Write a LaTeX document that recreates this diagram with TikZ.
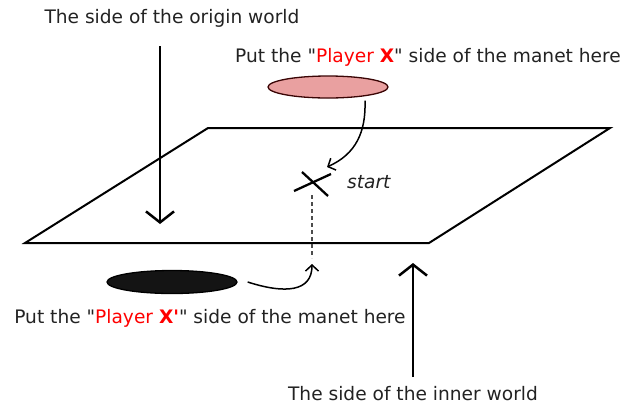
\documentclass[tikz,border=0pt]{standalone}
\usepackage{fontspec}
\setmainfont{DejaVu Sans}
\usetikzlibrary{arrows.meta,positioning,shapes.geometric}
\definecolor{playerred}{HTML}{FF0000}
\definecolor{magnetpink}{HTML}{E9A0A0}
\definecolor{magnetedge}{HTML}{3A0505}
\definecolor{textgray}{HTML}{222222}
\newcommand{\plx}{\textcolor{playerred}{Player \textbf{X}}}

\begin{document}
\begin{tikzpicture}[x=1pt,y=-1pt,
    caption/.style={font=\fontsize{18.6}{21}\selectfont,text=textgray,inner sep=0pt},
    world arrow/.style={line width=2.5pt,-{Straight Barb[length=11pt,width=28pt,line width=2.5pt]}},
    flip arrow/.style={line width=1.5pt,-{Straight Barb[length=6pt,width=13pt,line width=1.5pt]}},
    magnet/.style={ellipse,draw,line width=1.3pt,inner sep=0pt}]
  \useasboundingbox (0,0) rectangle (636,408);
  % the board
  \draw[line width=2pt] (208,128) -- (610,128) -- (429,243) -- (25,243) -- cycle;
  % labels of the two worlds
  \node[caption] (origin) at (172,18) {The side of the origin world};
  \node[caption] (inner) at (413,394) {The side of the inner world};
  \coordinate (origin top) at (160,46);
  \coordinate (origin tip) at (160,224);
  \coordinate (inner foot) at (413,377);
  \coordinate (inner tip) at (413,263);
  \draw[world arrow] (origin top) -- (origin tip);
  \draw[world arrow] (inner foot) -- (inner tip);
  % the two magnets
  \node[caption] (front text) at (428,57) {Put the \textquotedbl\plx\textquotedbl\ side of the manet here};
  \node[magnet,fill=magnetpink,draw=magnetedge,minimum width=120pt,minimum height=22pt] (front magnet) at (328,87) {};
  \node[caption] (back text) at (210,318) {Put the \textquotedbl\plx\textcolor{playerred}{\textbf{\textquotesingle}}\textquotedbl\ side of the manet here};
  \node[magnet,fill=black!92,minimum width=130pt,minimum height=23pt] (back magnet) at (172,282) {};
  % start point
  \coordinate (start) at (312,183);
  \draw[line width=2.3pt] (294,191) -- (331,174);
  \draw[line width=2.3pt] (302,172) -- (328,196);
  \node[caption,font=\fontsize{18.6}{21}\selectfont\itshape,anchor=west] (start text) at (347,182) {start};
  \coordinate (below start) at (312,264);
  \draw[line width=1.5pt,dash pattern=on 4pt off 3pt,gray!60!black] ([yshift=-12pt]start) -- ([yshift=6pt]below start);
  % flipping arrows
  \draw[flip arrow] ([xshift=37pt,yshift=-2pt]front magnet.south) .. controls (366,132) and (356,154) .. ([shift={(15pt,16pt)}]start);
  \draw[flip arrow] ([xshift=10pt]back magnet.east) .. controls (285,294) and (312,292) .. (below start);
\end{tikzpicture}
\end{document}
